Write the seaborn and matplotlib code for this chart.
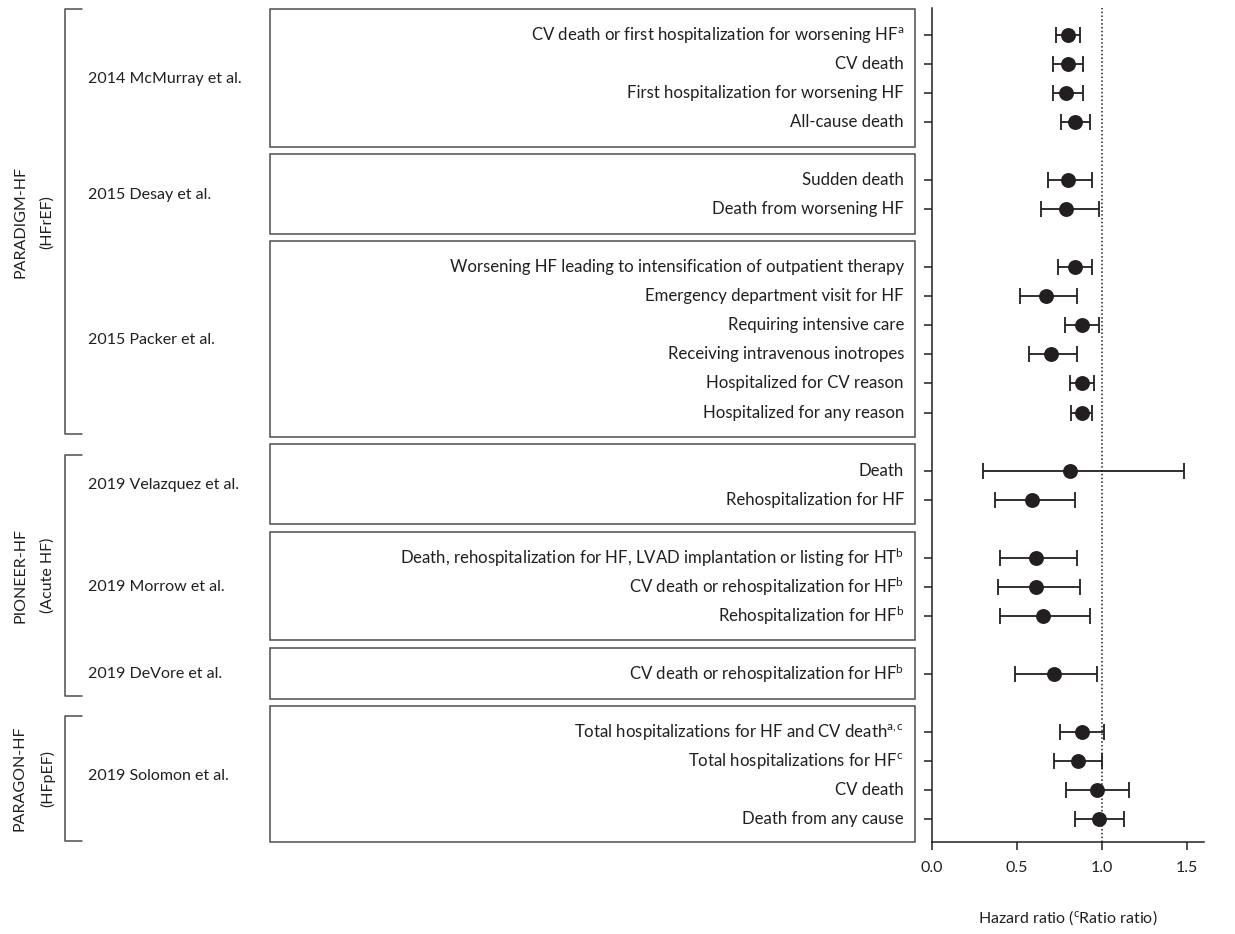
import numpy as np
import pandas as pd
import matplotlib
matplotlib.use("Agg")
import matplotlib.pyplot as plt
import seaborn as sns
from matplotlib.patches import Rectangle

# trial groups and studies
trials = ["PARADIGM-HF\n(HFrEF)", "PIONEER-HF\n(Acute HF)", "PARAGON-HF\n(HFpEF)"]
studies = ["2014 McMurray et al.", "2015 Desay et al.", "2015 Packer et al.",
           "2019 Velazquez et al.", "2019 Morrow et al.", "2019 DeVore et al.",
           "2019 Solomon et al."]
study_trial = [0, 0, 0, 1, 1, 1, 2]

outcomes = [
    r"CV death or first hospitalization for worsening HF$^{\mathrm{a}}$",
    "CV death",
    "First hospitalization for worsening HF",
    "All-cause death",
    "Sudden death",
    "Death from worsening HF",
    "Worsening HF leading to intensification of outpatient therapy",
    "Emergency department visit for HF",
    "Requiring intensive care",
    "Receiving intravenous inotropes",
    "Hospitalized for CV reason",
    "Hospitalized for any reason",
    "Death",
    "Rehospitalization for HF",
    r"Death, rehospitalization for HF, LVAD implantation or listing for HT$^{\mathrm{b}}$",
    r"CV death or rehospitalization for HF$^{\mathrm{b}}$",
    r"Rehospitalization for HF$^{\mathrm{b}}$",
    r"CV death or rehospitalization for HF$^{\mathrm{b}}$",
    r"Total hospitalizations for HF and CV death$^{\mathrm{a,c}}$",
    r"Total hospitalizations for HF$^{\mathrm{c}}$",
    "CV death",
    "Death from any cause",
]
outcome_study = [0, 0, 0, 0, 1, 1, 2, 2, 2, 2, 2, 2, 3, 3, 4, 4, 4, 5, 6, 6, 6, 6]

hr = [0.80, 0.80, 0.79, 0.84, 0.80, 0.79, 0.84, 0.67, 0.88, 0.70, 0.88, 0.88,
      0.81, 0.59, 0.61, 0.61, 0.65, 0.72, 0.88, 0.86, 0.97, 0.98]
ci_low = [0.73, 0.71, 0.71, 0.76, 0.68, 0.64, 0.74, 0.52, 0.78, 0.57, 0.81, 0.82,
          0.30, 0.37, 0.40, 0.39, 0.40, 0.49, 0.75, 0.72, 0.79, 0.84]
ci_high = [0.87, 0.89, 0.89, 0.93, 0.94, 0.98, 0.94, 0.85, 0.98, 0.85, 0.95, 0.94,
           1.48, 0.84, 0.85, 0.87, 0.93, 0.97, 1.01, 1.00, 1.16, 1.13]

# row positions: one blank row between studies
pos = []
k = 0
prev = None
for s in outcome_study:
    if prev is not None and s != prev:
        k += 1
    pos.append(k)
    k += 1
    prev = s

df = pd.DataFrame({"outcome": outcomes, "study": outcome_study, "pos": pos,
                   "hr": hr, "lo": ci_low, "hi": ci_high})

sns.set_style("ticks")
plt.rcParams["font.family"] = ["Lato", "DejaVu Sans"]
plt.rcParams["mathtext.fontset"] = "custom"
plt.rcParams["mathtext.rm"] = "Lato"
plt.rcParams["mathtext.it"] = "Lato:italic"
plt.rcParams["mathtext.bf"] = "Lato:bold"

ink = "#231f20"
W, H = 1235, 934
fig = plt.figure(figsize=(W / 100, H / 100), dpi=100)

y_top, y_bot = -0.93, 27.79
ax_l = fig.add_axes([0, 1 - 842 / H, 932 / W, (842 - 8) / H])
ax = fig.add_axes([932 / W, 1 - 842 / H, (1204 - 932) / W, (842 - 8) / H], sharey=ax_l)

# --- left panel: boxes, study names, trial brackets
ax_l.set_xlim(0, 932)
ax_l.axis("off")
fs = 11.5
fs_out = 12.1
for s, name in enumerate(studies):
    rows = df[df.study == s]
    first, last = rows.pos.min(), rows.pos.max()
    top = first - 0.9
    bot = min(last + 0.85, y_bot)
    ax_l.add_patch(Rectangle((270, top), 645, bot - top, fill=False,
                             edgecolor="#4d4d4d", lw=1.1, clip_on=False))
    ax_l.text(88, (first + last) / 2, name, ha="left", va="center",
              fontsize=fs, color=ink)
for _, r in df.iterrows():
    ax_l.text(904, r.pos, r.outcome, ha="right", va="center", fontsize=fs_out, color=ink)

for t, label in enumerate(trials):
    sidx = [i for i, v in enumerate(study_trial) if v == t]
    rows = df[df.study.isin(sidx)]
    first, last = rows.pos.min(), rows.pos.max()
    top = first - 0.55 if t > 0 else y_top + 0.03
    bot = min(last + 0.75, y_bot + 0.02)
    ax_l.plot([82, 65, 65, 82], [top, top, bot, bot], color="#4d4d4d", lw=1.1,
              clip_on=False)
    ax_l.text(34, (top + bot) / 2, label, rotation=90, ha="center", va="center",
              fontsize=fs, color=ink, linespacing=2.1, multialignment="center")

# --- right panel: forest plot
ax.errorbar(df.hr, df.pos, xerr=[df.hr - df.lo, df.hi - df.hr], fmt="none",
            ecolor=ink, elinewidth=1.3, capsize=5.5, capthick=1.3, zorder=2)
sns.scatterplot(data=df, x="hr", y="pos", s=115, color=ink, edgecolor=ink,
                linewidth=0, zorder=3, ax=ax)
ax.axvline(1.0, ls=(0, (1, 1.5)), color=ink, lw=1.1, zorder=1)

ax.set_xlim(0, 1.6)
ax.set_xticks([0, 0.5, 1.0, 1.5])
ax.set_xticklabels(["0.0", "0.5", "1.0", "1.5"])
ax.set_yticks(df.pos)
ax.tick_params(axis="y", labelleft=False, length=6, width=1.1, color=ink)
ax.tick_params(axis="x", length=6, width=1.1, color=ink, labelsize=fs,
               labelcolor=ink, pad=8)
ax.set_ylim(y_bot, y_top)
for side in ["top", "right"]:
    ax.spines[side].set_visible(False)
for side in ["left", "bottom"]:
    ax.spines[side].set_color(ink)
    ax.spines[side].set_linewidth(1.1)
ax.set_xlabel(r"Hazard ratio ($^{\mathrm{c}}$Ratio ratio)", fontsize=fs,
              color=ink, labelpad=24)
ax.set_ylabel("")

fig.savefig("out.png", dpi=100)
